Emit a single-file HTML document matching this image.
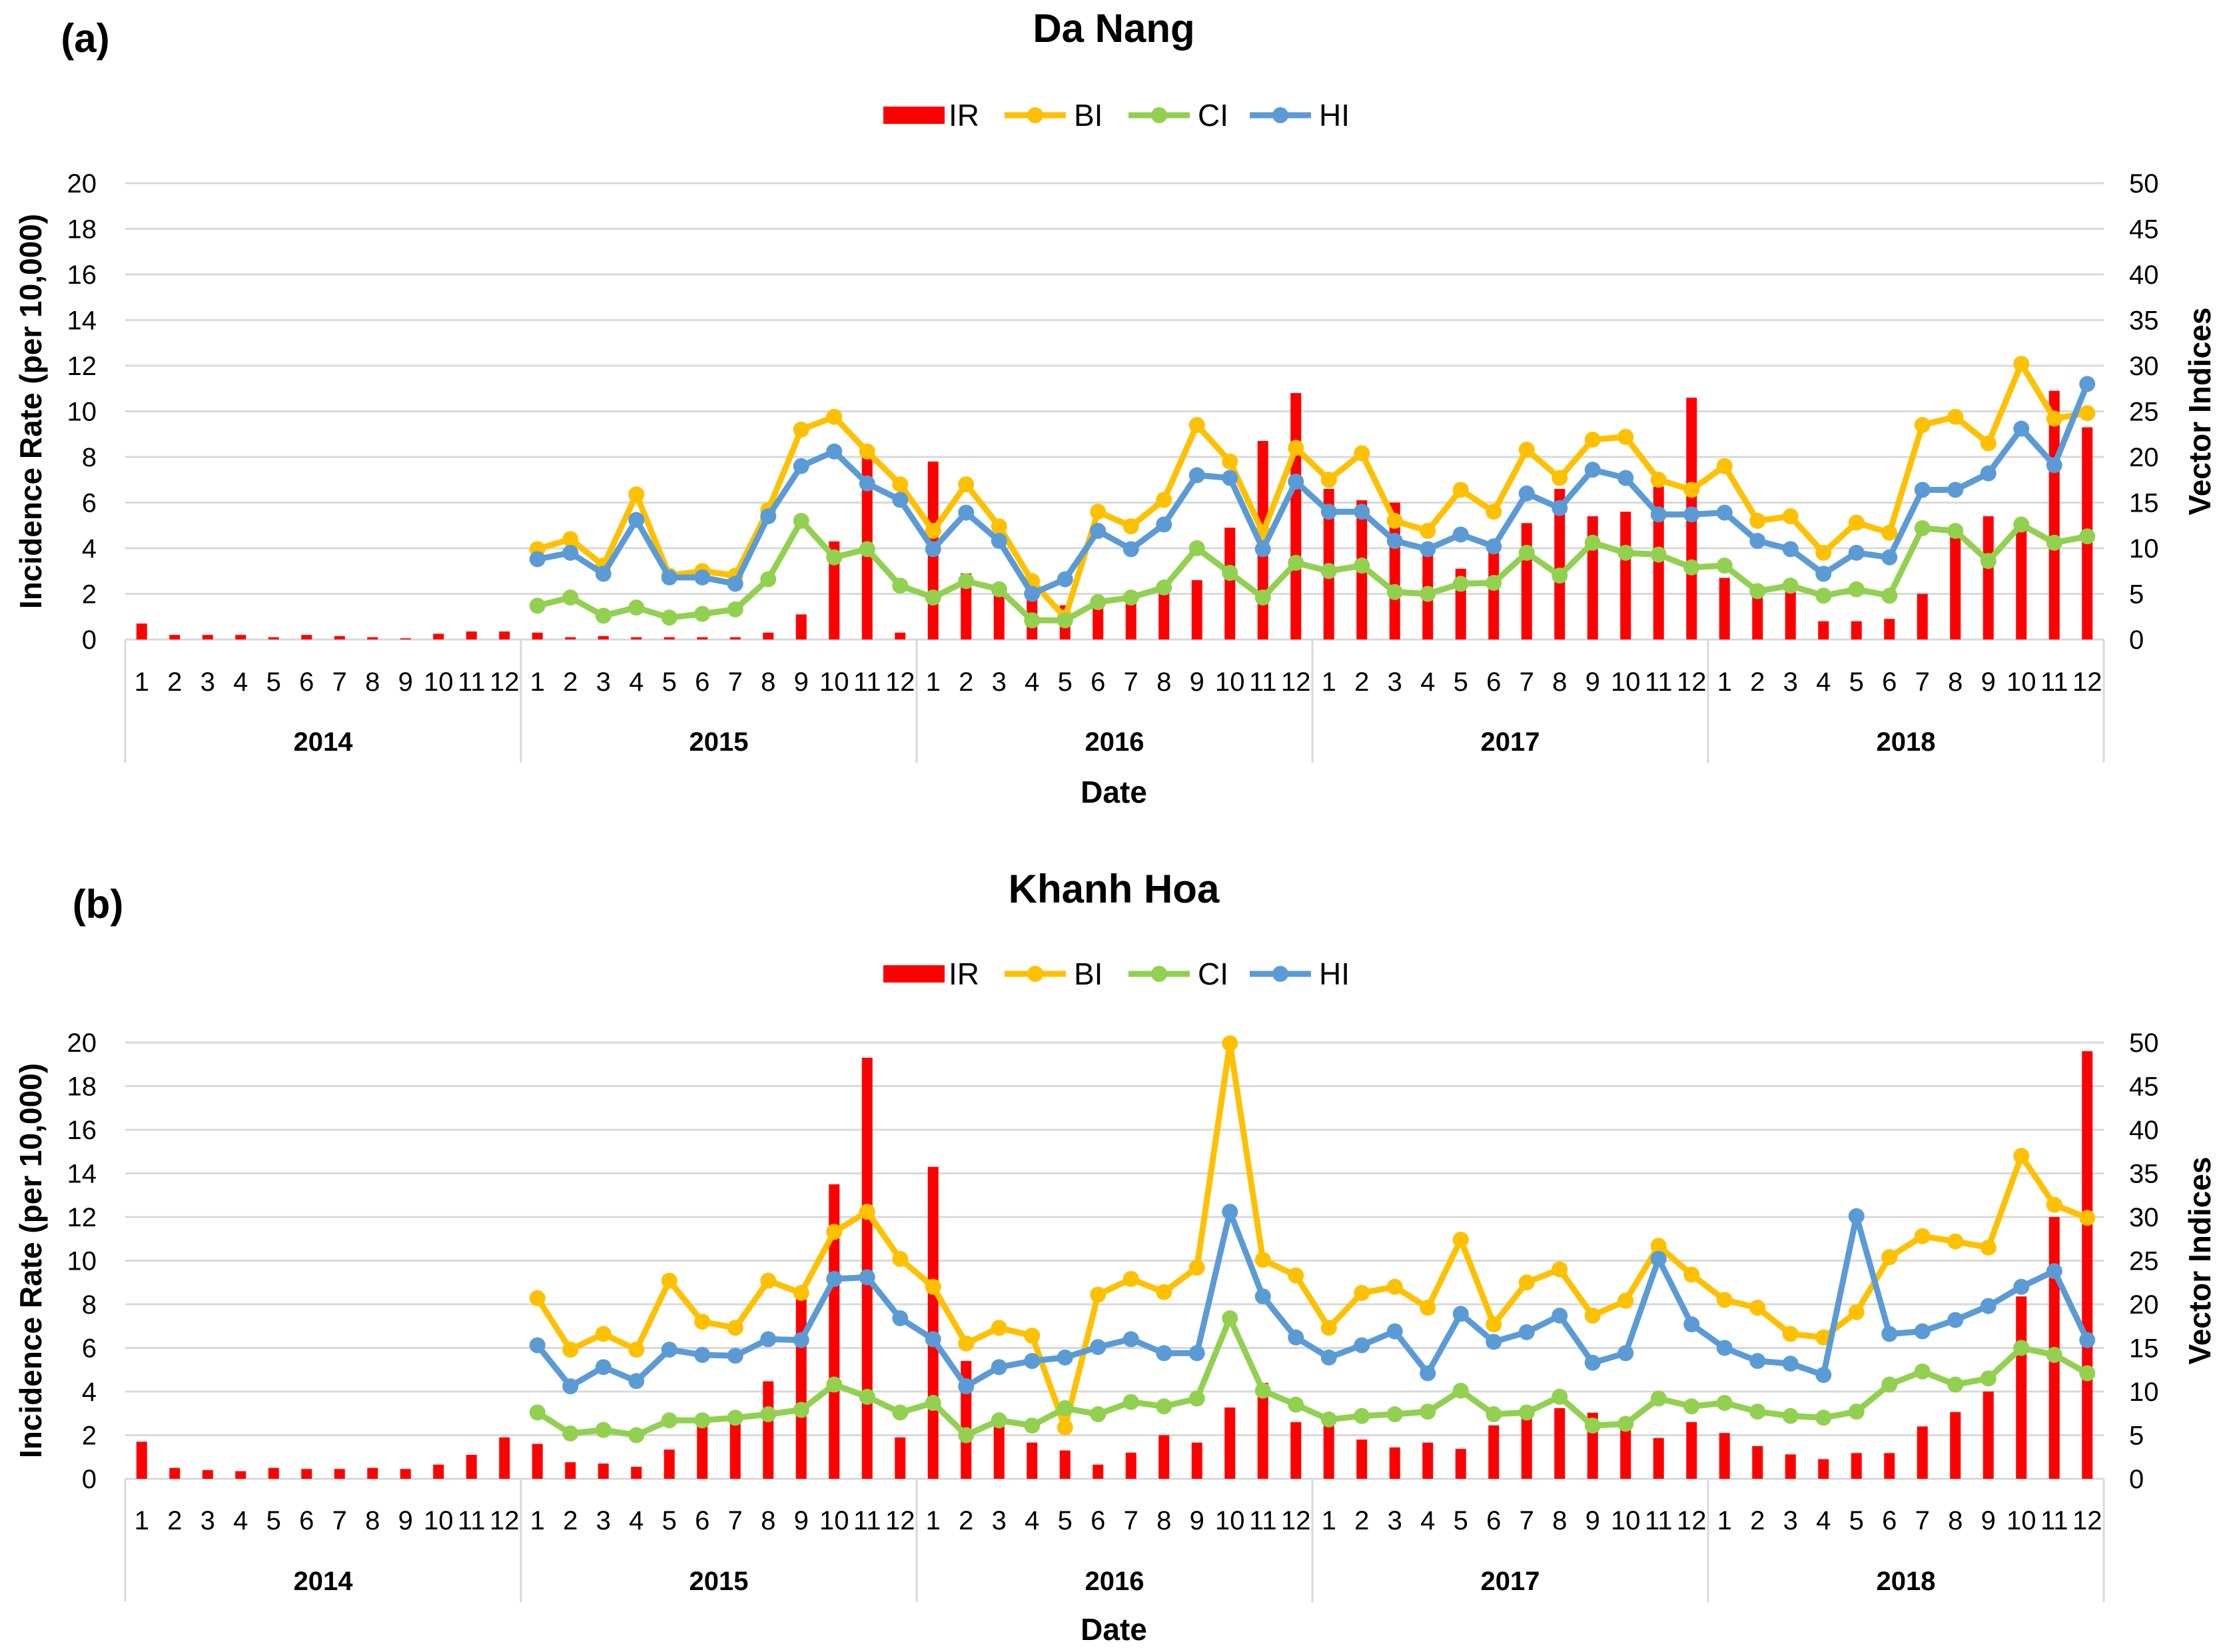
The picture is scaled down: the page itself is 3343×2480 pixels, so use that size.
<!DOCTYPE html>
<html><head><meta charset="utf-8">
<style>
html,body{margin:0;padding:0;background:#fff;}
svg{display:block;font-family:"Liberation Sans",Arial,sans-serif;}
</style></head>
<body>
<svg id="chart" width="3343" height="2480" viewBox="0 0 3343 2480" xmlns="http://www.w3.org/2000/svg"></svg>
<script>
const years = ["2014","2015","2016","2017","2018"];
const months = ["1","2","3","4","5","6","7","8","9","10","11","12"];
const leftTicks = [0,2,4,6,8,10,12,14,16,18,20];
const rightTicks = [0,5,10,15,20,25,30,35,40,45,50];

// Da Nang
const irA = [0.7,0.2,0.2,0.2,0.1,0.2,0.15,0.1,0.05,0.25,0.35,0.35,
 0.3,0.1,0.15,0.1,0.1,0.1,0.1,0.3,1.1,4.3,8.0,0.3,
 7.8,2.9,2.3,2.0,1.5,1.7,1.8,2.3,2.6,4.9,8.7,10.8,
 6.6,6.1,6.0,3.9,3.1,4.0,5.1,6.6,5.4,5.6,6.7,10.6,
 2.7,2.0,2.5,0.8,0.8,0.9,2.0,4.7,5.4,5.3,10.9,9.3];
const biA = [9.9,11,8.1,15.9,7.0,7.5,7.0,14.2,23,24.4,20.6,17.0,
 11.9,17,12.4,6.4,2.4,14,12.4,15.3,23.5,19.5,11.7,21,
 17.5,20.4,13,11.9,16.4,14,20.8,17.7,21.9,22.2,17.5,16.4,
 19,13,13.5,9.5,12.8,11.7,23.5,24.4,21.5,30.2,24.2,24.8];
const ciA = [3.7,4.6,2.6,3.5,2.4,2.8,3.3,6.6,13,9.0,9.9,5.9,
 4.6,6.4,5.5,2.1,2.1,4.1,4.6,5.7,10,7.3,4.6,8.4,
 7.5,8.1,5.2,5.0,6.1,6.2,9.5,7.0,10.6,9.5,9.3,7.9,
 8.1,5.3,5.9,4.8,5.5,4.8,12.2,11.9,8.6,12.6,10.6,11.3];
const hiA = [8.8,9.5,7.2,13.1,6.8,6.8,6.1,13.5,19,20.6,17.1,15.3,
 9.9,13.9,10.8,5.0,6.6,11.9,9.9,12.6,18,17.7,9.9,17.3,
 14,14,10.8,9.9,11.5,10.2,16,14.4,18.6,17.7,13.7,13.7,
 13.9,10.8,9.9,7.2,9.5,9.0,16.4,16.4,18.2,23.1,19.1,28];

// Khanh Hoa
const irB = [1.7,0.5,0.4,0.35,0.5,0.45,0.45,0.5,0.45,0.65,1.1,1.9,
 1.6,0.76,0.7,0.55,1.34,2.45,2.6,4.47,8.3,13.5,19.3,1.9,
 14.3,5.4,2.5,1.66,1.3,0.65,1.2,2.0,1.66,3.27,4.4,2.6,
 2.6,1.8,1.44,1.66,1.37,2.45,3.2,3.24,3.03,2.4,1.87,2.6,
 2.1,1.5,1.12,0.9,1.18,1.18,2.4,3.06,4.0,8.36,12,19.6];
const biB = [20.7,14.8,16.6,14.8,22.7,18,17.3,22.7,21.3,28.3,30.6,25.2,
 22,15.5,17.3,16.4,5.9,21.1,22.9,21.4,24.2,49.9,25.1,23.3,
 17.3,21.3,22,19.6,27.4,17.7,22.5,24,18.7,20.4,26.7,23.4,
 20.5,19.6,16.6,16.2,19.1,25.4,27.8,27.2,26.5,37,31.4,29.9];
const ciB = [7.6,5.2,5.6,5.0,6.7,6.7,7.0,7.4,7.9,10.8,9.4,7.6,
 8.7,5.0,6.7,6.1,8.1,7.4,8.8,8.3,9.2,18.4,10.1,8.5,
 6.8,7.2,7.4,7.7,10.1,7.4,7.6,9.4,6.1,6.3,9.2,8.3,
 8.7,7.7,7.2,7.0,7.7,10.8,12.3,10.8,11.5,15,14.2,12.1];
const hiB = [15.3,10.6,12.8,11.2,14.8,14.2,14.1,16,15.9,22.9,23.1,18.4,
 16,10.6,12.8,13.5,13.9,15.1,16,14.4,14.4,30.6,20.9,16.2,
 13.9,15.3,16.9,12.1,18.9,15.7,16.8,18.7,13.3,14.4,25.2,17.7,
 15,13.5,13.2,11.9,30.1,16.6,16.9,18.2,19.8,22,23.8,15.9];

const NS="http://www.w3.org/2000/svg";
const svg=document.getElementById('chart');
function el(tag,attrs,parent,text){
  const e=document.createElementNS(NS,tag);
  for(const k in attrs) e.setAttribute(k,attrs[k]);
  if(text!==undefined) e.textContent=text;
  (parent||svg).appendChild(e);
  return e;
}

function drawPanel(p){
  const g=el('g',{});
  
  
  const L=188,R=3158,y0=p.y0,y20=p.y20;
  const band=(R-L)/60;
  const xc=i=>L+band*(i+0.5);
  const yL=v=>y0-(v/20)*(y0-y20);
  const yR=v=>y0-(v/50)*(y0-y20);
  const lab=el('text',{x:p.labX,y:p.labY,'font-size':60,'font-weight':'bold','text-anchor':'middle'},g,p.label);
  
  
  const t=el('text',{x:1672,y:p.titleY,'font-size':60,'font-weight':'bold','text-anchor':'middle'},g,p.title);
  
  
  const lg=el('g',{},g);
  
  
  const ly=p.legY;
  const r1=el('rect',{x:1326,y:ly-13,width:92,height:26,fill:'#ff0000'},lg);
  
  
  el('text',{x:1424,y:ly+16,'font-size':46},lg,'IR');
  const items=[['BI','#FFC000',1508],['CI','#92D050',1694],['HI','#5B9BD5',1876]];
  items.forEach(it=>{
    const ln=el('line',{x1:it[2],y1:ly,x2:it[2]+92,y2:ly,stroke:it[1],'stroke-width':9},lg);
    
    
    el('circle',{cx:it[2]+46,cy:ly,r:12,fill:it[1]},lg);
    el('text',{x:it[2]+104,y:ly+16,'font-size':46},lg,it[0]);
  });
  leftTicks.forEach(v=>{
    const y=yL(v);
    el('line',{x1:L,y1:y,x2:R,y2:y,stroke:'#d9d9d9','stroke-width':3},g);
    const tx=el('text',{x:145,y:y+14,'font-size':40,'text-anchor':'end'},g,String(v));
    
    
  });
  rightTicks.forEach(v=>{
    const tx=el('text',{x:3196,y:yR(v)+14,'font-size':40},g,String(v));
    
    
  });
  const yt=el('text',{x:0,y:0,'font-size':46,'font-weight':'bold','text-anchor':'middle',transform:`translate(62,${(y0+y20)/2}) rotate(-90)`},g,'Incidence Rate (per 10,000)');
  
  
  const yt2=el('text',{x:0,y:0,'font-size':46,'font-weight':'bold','text-anchor':'middle',transform:`translate(3318,${(y0+y20)/2}) rotate(-90)`},g,'Vector Indices');
  
  
  for(let k=0;k<=5;k++){
    const x=L+band*12*k;
    el('line',{x1:x,y1:y0,x2:x,y2:y0+185,stroke:'#d9d9d9','stroke-width':3},g);
  }
  for(let i=0;i<60;i++){
    const mt=el('text',{x:xc(i),y:p.monY,'font-size':40,'text-anchor':'middle'},g,months[i%12]);
    
    
  }
  years.forEach((yr,k)=>{
    const tx=el('text',{x:L+band*(12*k+6),y:p.yrY,'font-size':40,'font-weight':'bold','text-anchor':'middle'},g,yr);
    
    
  });
  const dt=el('text',{x:1672,y:p.dateY,'font-size':46,'font-weight':'bold','text-anchor':'middle'},g,'Date');
  
  
  p.ir.forEach((v,i)=>{
    const b=el('rect',{x:xc(i)-8,y:yL(v),width:16,height:y0-yL(v),fill:'#ff0000'},g);
    
    
  });
  const series=[[p.bi,'#FFC000','bi'],[p.ci,'#92D050','ci'],[p.hi,'#5B9BD5','hi']];
  series.forEach(s=>{
    const pts=s[0].map((v,j)=>xc(j+12)+','+yR(v)).join(' ');
    const pl=el('polyline',{points:pts,fill:'none',stroke:s[1],'stroke-width':9,'stroke-linejoin':'round'},g);
    
    
    s[0].forEach((v,j)=>{
      const c=el('circle',{cx:xc(j+12),cy:yR(v),r:12,fill:s[1]},g);
      
      
    });
  });
}

drawPanel({id:'da-nang',label:'(a)',labX:128,labY:78,title:'Da Nang',titleY:63,legY:173,
  y0:960,y20:275,monY:1037,yrY:1127,dateY:1205,ir:irA,bi:biA,ci:ciA,hi:hiA});
drawPanel({id:'khanh-hoa',label:'(b)',labX:147,labY:1378,title:'Khanh Hoa',titleY:1355,legY:1462,
  y0:2220,y20:1565,monY:2296,yrY:2387,dateY:2462,ir:irB,bi:biB,ci:ciB,hi:hiB});
</script>
</body></html>
